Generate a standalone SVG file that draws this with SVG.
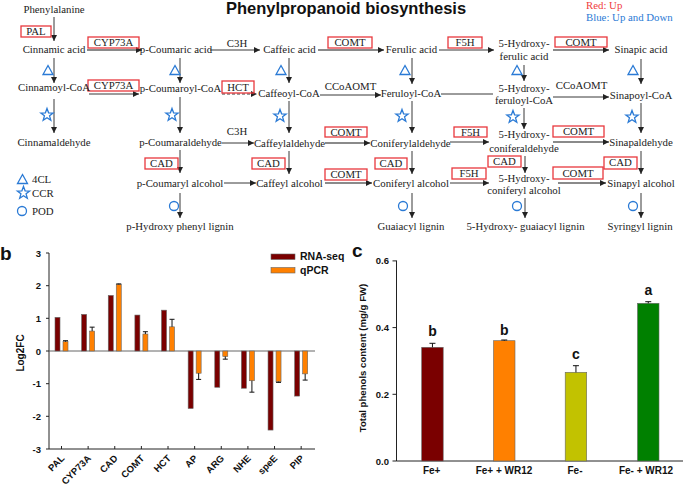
<svg xmlns="http://www.w3.org/2000/svg" width="685" height="487" viewBox="0 0 685 487">
<style>
.m{font-family:"Liberation Serif","Times New Roman",serif;font-size:10.8px;fill:#222;text-anchor:middle}
.eb{fill:none;stroke:#e8383d;stroke-width:1.3}
.ln{stroke:#222;stroke-width:0.9;fill:none}
.gl{stroke:#8a8a8a;stroke-width:2.2;fill:none}
.sym{fill:none;stroke:#2a7ad5;stroke-width:1.3}
.b{font-family:"Liberation Sans",Arial,sans-serif;font-weight:bold;fill:#111}
.ax{stroke:#222;stroke-width:1;fill:none}
.bar{stroke:#666;stroke-width:0.6}
.err{stroke:#111;stroke-width:1;fill:none}
</style>
<defs>
<marker id="ah" markerUnits="userSpaceOnUse" markerWidth="6" markerHeight="6" refX="6" refY="3" orient="auto"><path d="M0,0 L6,3 L0,6 z" fill="#222"/></marker>
<polygon id="star" class="sym" points="0,-6.5 1.59,-2.18 6.18,-2.01 2.57,0.83 3.82,5.26 0,2.7 -3.82,5.26 -2.57,0.83 -6.18,-2.01 -1.59,-2.18"/>
<polygon id="tri" class="sym" points="0,-4.5 5,4.5 -5,4.5"/>
<circle id="circ" class="sym" r="4.5"/>
</defs>
<rect width="685" height="487" fill="#fff"/>

<!-- Panel a -->
<text x="346" y="14" class="b" font-size="16.5" text-anchor="middle">Phenylpropanoid biosynthesis</text>
<text x="586" y="9" class="m" style="text-anchor:start;fill:#f03c3c">Red:  Up</text>
<text x="586" y="21" class="m" style="text-anchor:start;fill:#2a7ad5">Blue: Up and Down</text>

<g id="connectors">
<g marker-end="url(#ah)">
<line class="ln" x1="54" y1="17" x2="54" y2="41"/>
<line class="gl" x1="87" y1="50" x2="142" y2="50"/>
<line class="ln" x1="210" y1="50" x2="260" y2="50"/>
<line class="gl" x1="318" y1="50" x2="384" y2="50"/>
<line class="ln" x1="439" y1="50" x2="494" y2="50"/>
<line class="gl" x1="553" y1="50" x2="609" y2="50"/>
<line class="ln" x1="89" y1="94" x2="139" y2="94"/>
<line class="ln" x1="222" y1="94" x2="257" y2="94" stroke-dasharray="3,2"/>
<line class="ln" x1="320" y1="95" x2="381" y2="95"/>
<line class="ln" x1="553" y1="97" x2="609" y2="97"/>
<line class="ln" x1="222" y1="143" x2="254" y2="143"/>
<line class="gl" x1="325" y1="143" x2="370" y2="143"/>
<line class="ln" x1="450" y1="142" x2="489" y2="142"/>
<line class="gl" x1="553" y1="142" x2="609" y2="142"/>
<line class="ln" x1="224" y1="183" x2="256" y2="183"/>
<line class="gl" x1="325" y1="183" x2="372" y2="183"/>
<line class="ln" x1="450" y1="183" x2="489" y2="183"/>
<line class="gl" x1="558" y1="183" x2="606" y2="183"/>
<line class="ln" x1="54" y1="58" x2="54" y2="83"/>
<line class="ln" x1="54" y1="99" x2="54" y2="133"/>
<line class="ln" x1="180" y1="58" x2="180" y2="83"/>
<line class="ln" x1="180" y1="97" x2="180" y2="133"/>
<line class="ln" x1="180" y1="150" x2="180" y2="173"/>
<line class="ln" x1="180" y1="193" x2="180" y2="218"/>
<line class="ln" x1="289" y1="58" x2="289" y2="83"/>
<line class="ln" x1="289" y1="101" x2="289" y2="133"/>
<line class="ln" x1="289" y1="151" x2="289" y2="174"/>
<line class="ln" x1="412" y1="58" x2="412" y2="84"/>
<line class="ln" x1="412" y1="101" x2="412" y2="133"/>
<line class="ln" x1="412" y1="151" x2="412" y2="174"/>
<line class="ln" x1="412" y1="193" x2="412" y2="218"/>
<line class="ln" x1="524" y1="65" x2="524" y2="81"/>
<line class="ln" x1="524" y1="108" x2="524" y2="129"/>
<line class="ln" x1="525" y1="156" x2="525" y2="173"/>
<line class="ln" x1="525" y1="198" x2="525" y2="218"/>
<line class="ln" x1="641" y1="59" x2="641" y2="84"/>
<line class="ln" x1="641" y1="103" x2="641" y2="133"/>
<line class="ln" x1="641" y1="151" x2="641" y2="174"/>
<line class="ln" x1="641" y1="193" x2="641" y2="218"/>
</g>
<line class="ln" x1="441" y1="94" x2="493" y2="94"/>

<g id="enzymes">
<rect class="eb" x="21" y="26" width="30" height="11"/><text class="m" x="36" y="35">PAL</text>
<rect class="eb" x="88" y="37" width="51" height="11"/><text class="m" x="113.5" y="46">CYP73A</text>
<text class="m" x="237" y="47">C3H</text>
<rect class="eb" x="328" y="37" width="44" height="11"/><text class="m" x="350" y="46">COMT</text>
<rect class="eb" x="448" y="37" width="34" height="11"/><text class="m" x="465" y="46">F5H</text>
<rect class="eb" x="555" y="37" width="52" height="10"/><text class="m" x="581" y="45.5">COMT</text>
<rect class="eb" x="88" y="80" width="51" height="11"/><text class="m" x="113.5" y="89">CYP73A</text>
<rect class="eb" x="222" y="81" width="32" height="12"/><text class="m" x="238" y="90.5">HCT</text>
<text class="m" x="350.5" y="90">CCoAOMT</text>
<text class="m" x="581.5" y="89">CCoAOMT</text>
<text class="m" x="237" y="135">C3H</text>
<rect class="eb" x="325" y="127" width="42" height="10"/><text class="m" x="346" y="135.5">COMT</text>
<rect class="eb" x="454" y="127" width="33" height="10"/><text class="m" x="470.5" y="135.5">F5H</text>
<rect class="eb" x="553" y="126" width="51" height="11"/><text class="m" x="578.5" y="135">COMT</text>
<rect class="eb" x="325" y="169" width="42" height="11"/><text class="m" x="346" y="177.5">COMT</text>
<rect class="eb" x="452" y="168" width="34" height="11"/><text class="m" x="469" y="177">F5H</text>
<rect class="eb" x="553" y="167" width="50" height="12"/><text class="m" x="578" y="176.5">COMT</text>
<rect class="eb" x="145" y="158" width="33" height="11"/><text class="m" x="161.5" y="167">CAD</text>
<rect class="eb" x="252" y="158" width="33" height="11"/><text class="m" x="268.5" y="167">CAD</text>
<rect class="eb" x="375" y="158" width="32" height="11"/><text class="m" x="391" y="167">CAD</text>
<rect class="eb" x="488" y="156" width="33" height="11"/><text class="m" x="504.5" y="165">CAD</text>
<rect class="eb" x="604" y="157" width="33" height="12"/><text class="m" x="620.5" y="166">CAD</text>
</g>

<g id="symbols">
<use href="#tri" x="48" y="70"/><use href="#tri" x="175" y="70"/><use href="#tri" x="281" y="70"/>
<use href="#tri" x="405" y="70"/><use href="#tri" x="517" y="70"/><use href="#tri" x="633" y="70"/>
<use href="#star" x="47" y="115"/><use href="#star" x="172" y="115"/><use href="#star" x="280" y="116"/>
<use href="#star" x="402" y="116"/><use href="#star" x="513" y="117"/><use href="#star" x="632" y="117"/>
<use href="#circ" x="174" y="206"/><use href="#circ" x="403" y="206"/><use href="#circ" x="517" y="206"/><use href="#circ" x="633" y="206"/>
</g>
</g>

<g id="n-phenylalanine"><text class="m" x="54" y="13">Phenylalanine</text></g>
<g id="n-cinnamic-acid"><text class="m" x="54" y="53">Cinnamic acid</text></g>
<g id="n-p-coumaric-acid"><text class="m" x="176" y="53">p-Coumaric acid</text></g>
<g id="n-caffeic-acid"><text class="m" x="289.5" y="53">Caffeic acid</text></g>
<g id="n-ferulic-acid"><text class="m" x="411.5" y="53">Ferulic acid</text></g>
<g id="n-5-hydroxyferulic-acid"><text class="m" x="524" y="47">5-Hydroxy-</text><text class="m" x="524" y="60">ferulic acid</text></g>
<g id="n-sinapic-acid"><text class="m" x="641" y="53">Sinapic acid</text></g>
<g id="n-cinnamoyl-coa"><text class="m" x="54" y="91">Cinnamoyl-CoA</text></g>
<g id="n-p-coumaroyl-coa"><text class="m" x="180.5" y="92">p-Coumaroyl-CoA</text></g>
<g id="n-caffeoyl-coa"><text class="m" x="289" y="97">Caffeoyl-CoA</text></g>
<g id="n-feruloyl-coa"><text class="m" x="411" y="97">Feruloyl-CoA</text></g>
<g id="n-5-hydroxyferuloyl-coa"><text class="m" x="524" y="92">5-Hydroxy-</text><text class="m" x="524" y="104">feruloyl-CoA</text></g>
<g id="n-sinapoyl-coa"><text class="m" x="641" y="99">Sinapoyl-CoA</text></g>
<g id="n-cinnamaldehyde"><text class="m" x="54" y="146">Cinnamaldehyde</text></g>
<g id="n-p-coumaraldehyde"><text class="m" x="180.5" y="146">p-Coumaraldehyde</text></g>
<g id="n-caffeylaldehyde"><text class="m" x="289.5" y="147">Caffeylaldehyde</text></g>
<g id="n-coniferylaldehyde"><text class="m" x="410.5" y="147">Coniferylaldehyde</text></g>
<g id="n-5-hydroxyconiferaldehyde"><text class="m" x="524" y="138">5-Hydroxy-</text><text class="m" x="524" y="152">coniferaldehyde</text></g>
<g id="n-sinapaldehyde"><text class="m" x="641" y="146">Sinapaldehyde</text></g>
<g id="n-p-coumaryl-alcohol"><text class="m" x="180" y="187">p-Coumaryl alcohol</text></g>
<g id="n-caffeyl-alcohol"><text class="m" x="289.5" y="187">Caffeyl alcohol</text></g>
<g id="n-coniferyl-alcohol"><text class="m" x="411" y="187">Coniferyl alcohol</text></g>
<g id="n-5-hydroxyconiferyl-alcohol"><text class="m" x="524" y="182">5-Hydroxy-</text><text class="m" x="524" y="194">coniferyl alcohol</text></g>
<g id="n-sinapyl-alcohol"><text class="m" x="641" y="187">Sinapyl alcohol</text></g>
<g id="n-p-hydroxyphenyl-lignin"><text class="m" x="180" y="230">p-Hydroxy phenyl lignin</text></g>
<g id="n-guaiacyl-lignin"><text class="m" x="411" y="230">Guaiacyl lignin</text></g>
<g id="n-5-hydroxyguaiacyl-lignin"><text class="m" x="525.5" y="230">5-Hydroxy- guaiacyl lignin</text></g>
<g id="n-syringyl-lignin"><text class="m" x="640" y="230">Syringyl lignin</text></g>

<g id="legend-a">
<use href="#tri" x="22.5" y="179"/><text class="m" x="32" y="183" style="text-anchor:start">4CL</text>
<use href="#star" x="23.5" y="193"/><text class="m" x="32" y="197" style="text-anchor:start">CCR</text>
<use href="#circ" x="22" y="211"/><text class="m" x="32" y="215" style="text-anchor:start">POD</text>
</g>

<!-- Panel b -->
<g id="panel-b">
<text class="b" x="0" y="260" font-size="19">b</text>
<path class="ax" d="M49,253 V449 H315 M46,253 H49 M46,285.7 H49 M46,318.3 H49 M46,351 H49 M46,383.7 H49 M46,416.3 H49 M46,449 H49"/>
<line x1="49" y1="351" x2="315" y2="351" stroke="#555" stroke-width="0.9"/>
<g class="b" font-size="9.5" text-anchor="end">
<text x="41" y="256.5">3</text><text x="41" y="289">2</text><text x="41" y="321.5">1</text><text x="41" y="354.5">0</text>
<text x="41" y="387">-1</text><text x="41" y="419.5">-2</text><text x="41" y="452.5">-3</text>
</g>
<text class="b" font-size="10" text-anchor="middle" transform="translate(24,353) rotate(-90)">Log2FC</text>
<path class="ax" d="M61.5,449 v-3 M88.13,449 v-3 M114.76,449 v-3 M141.39,449 v-3 M168.02,449 v-3 M194.65,449 v-3 M221.28,449 v-3 M247.91,449 v-3 M274.54,449 v-3 M301.17,449 v-3"/>
<g fill="#7a0000" class="bar">
<rect x="55" y="317.35" width="5" height="33.65"/>
<rect x="81.63" y="314.41" width="5" height="36.59"/>
<rect x="108.26" y="295.46" width="5" height="55.54"/>
<rect x="134.89" y="315.06" width="5" height="35.94"/>
<rect x="161.52" y="310.16" width="5" height="40.84"/>
<rect x="188.15" y="351" width="5" height="57.5"/>
<rect x="214.78" y="351" width="5" height="36.26"/>
<rect x="241.41" y="351" width="5" height="37.24"/>
<rect x="268.04" y="351" width="5" height="79.06"/>
<rect x="294.67" y="351" width="5" height="45.08"/>
</g>
<g fill="#ff8000" class="bar">
<rect x="63" y="341.69" width="5" height="9.31"/>
<rect x="89.63" y="331.07" width="5" height="19.93"/>
<rect x="116.26" y="284.35" width="5" height="66.65"/>
<rect x="142.89" y="334.01" width="5" height="16.99"/>
<rect x="169.52" y="326.82" width="5" height="24.18"/>
<rect x="196.15" y="351" width="5" height="22.22"/>
<rect x="222.78" y="351" width="5" height="5.55"/>
<rect x="249.41" y="351" width="5" height="29.73"/>
<rect x="276.04" y="351" width="5" height="30.71"/>
<rect x="302.67" y="351" width="5" height="22.87"/>
</g>
<path class="err" d="M65.5,341.7 V340.7 M63,340.7 H68
M92.13,331.07 V327.15 M89.63,327.15 H94.63
M118.76,284.35 V283.7 M116.26,283.9 H121.26
M145.39,334 V331.72 M142.89,331.72 H147.89
M172.02,326.8 V319.31 M169.52,319.31 H174.52
M198.65,373.2 V379.42 M196.15,379.42 H201.15
M225.28,356.5 V359.17 M222.78,359.17 H227.78
M251.91,380.7 V392.16 M249.41,392.16 H254.41
M278.54,381.7 V382.4 M276.04,382.4 H281.04
M305.17,373.9 V380.08 M302.67,380.08 H307.67"/>
<g class="b" font-size="9.5" text-anchor="end">
<text transform="translate(65,459) rotate(-45)">PAL</text>
<text transform="translate(91.6,459) rotate(-45)">CYP73A</text>
<text transform="translate(118.3,459) rotate(-45)">CAD</text>
<text transform="translate(144.9,459) rotate(-45)">COMT</text>
<text transform="translate(171.5,459) rotate(-45)">HCT</text>
<text transform="translate(198.2,459) rotate(-45)">AP</text>
<text transform="translate(224.8,459) rotate(-45)">ARG</text>
<text transform="translate(251.4,459) rotate(-45)">NHE</text>
<text transform="translate(278,459) rotate(-45)">speE</text>
<text transform="translate(304.7,459) rotate(-45)">PIP</text>
</g>
<rect x="271" y="254" width="24" height="5.5" fill="#7a0000" class="bar"/>
<text class="b" x="300" y="260" font-size="10.5">RNA-seq</text>
<rect x="271" y="267.5" width="24" height="5.5" fill="#ff8000" class="bar"/>
<text class="b" x="300" y="273.5" font-size="10.5">qPCR</text>
</g>

<!-- Panel c -->
<g id="panel-c">
<text class="b" x="352" y="257" font-size="19">c</text>
<path class="ax" d="M396.5,260.5 V461 H683 M392.5,260.9 H396.5 M392.5,327.6 H396.5 M392.5,394.3 H396.5 M392.5,461 H396.5"/>
<g class="b" font-size="9.5" text-anchor="end">
<text x="389" y="264.4">0.6</text><text x="389" y="331">0.4</text><text x="389" y="397.8">0.2</text><text x="389" y="464.5">0.0</text>
</g>
<text class="b" font-size="9.6" text-anchor="middle" transform="translate(366,358) rotate(-90)">Total phenols content (mg/g FW)</text>
<rect class="bar" x="421.7" y="347.3" width="21.5" height="113.7" fill="#7a0000"/>
<rect class="bar" x="493.5" y="340.7" width="21.5" height="120.3" fill="#ff8000"/>
<rect class="bar" x="565.2" y="372.3" width="21.5" height="88.7" fill="#c2c200"/>
<rect class="bar" x="637.5" y="303.3" width="21.5" height="157.7" fill="#008000"/>
<path class="err" d="M432.45,347.3 V343.3 M429.45,343.3 H435.45
M504.25,340.7 V340 M501.25,340 H507.25
M575.95,372.3 V365.7 M572.95,365.7 H578.95
M648.25,303.3 V301.7 M645.25,301.7 H651.25"/>
<g class="b" font-size="14" text-anchor="middle">
<text x="432.5" y="336">b</text><text x="504.3" y="335">b</text><text x="576" y="359">c</text><text x="648.3" y="295">a</text>
</g>
<g class="b" font-size="10" text-anchor="middle">
<text x="431.7" y="474">Fe+</text><text x="504" y="474">Fe+ + WR12</text><text x="575" y="474">Fe-</text><text x="646" y="474">Fe- + WR12</text>
</g>
</g>
</svg>
